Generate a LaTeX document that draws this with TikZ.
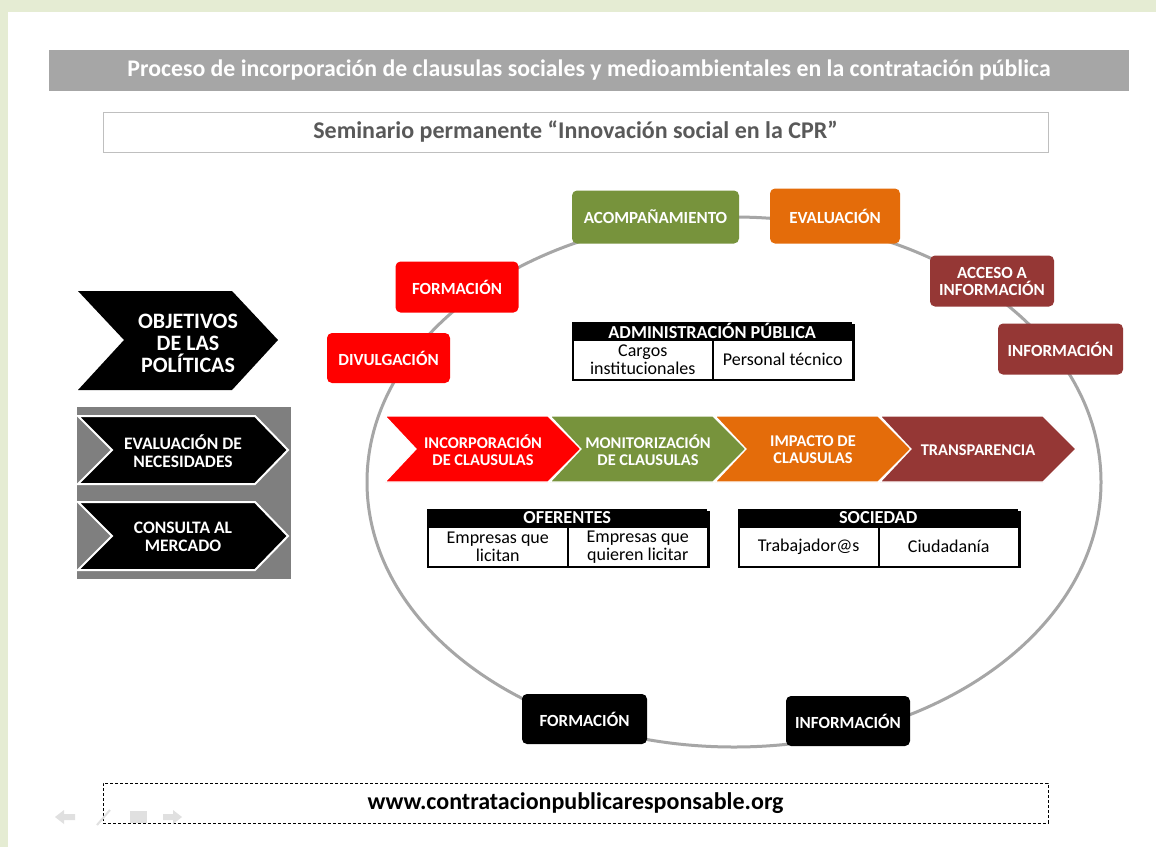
\documentclass[tikz,border=0pt]{standalone}
\usepackage{fontspec}
\setmainfont{Carlito}
\usetikzlibrary{positioning}
\definecolor{fondo}{HTML}{E5ECD3}
\definecolor{gris}{HTML}{A6A6A6}
\definecolor{grisosc}{HTML}{7F7F7F}
\definecolor{rojo}{HTML}{FF0000}
\definecolor{verde}{HTML}{77933C}
\definecolor{naranja}{HTML}{E46C0A}
\definecolor{granate}{HTML}{953735}
\newcommand\tam[2]{\fontsize{#1}{#2}\selectfont}
\tikzset{caja/.style={rounded corners=5pt, text=white, align=center, inner sep=2pt, font=\bfseries\tam{17}{17}},
         flecha/.style={text=white, align=center, font=\bfseries\tam{16.4}{17}},
         cabecera/.style={fill=black, text=white, inner sep=0pt, minimum width=280, minimum height=17, font=\bfseries\tam{18.3}{18}},
         celda/.style={draw, line width=1.5pt, fill=white, align=center, inner sep=0pt, minimum width=140, minimum height=40, font=\tam{18}{18}}}

\begin{document}
\begin{tikzpicture}[x=1pt,y=-1pt]
\useasboundingbox (0,0) rectangle (1156,847);
\fill[fondo] (0,0) rectangle (1156,847);
\fill[white] (8,12) rectangle (1156,847);

% cabecera
\node[fill=gris, minimum width=1080, minimum height=41, inner sep=0pt, text=white, font=\bfseries\tam{23.8}{24}] (titulo) at (589,70)
  {Proceso de incorporación de clausulas sociales y medioambientales en la contratación pública};
\node[draw=gray!50, line width=.8pt, minimum width=945, minimum height=40, inner sep=0pt, text=black!65, font=\bfseries\tam{24}{24}] (seminario) at (575.5,132)
  {Seminario permanente “Innovación social en la CPR”};

% columna izquierda
\fill[black] (78,291) -- (232,291) -- (278,340) -- (232,390) -- (78,390) -- (124,340) -- cycle;
\node[flecha, font=\bfseries\tam{22}{22}] (objetivos) at (188,343) {OBJETIVOS\\DE LAS\\POLÍTICAS};
\fill[grisosc] (77,407) rectangle (291,579);
\foreach \y/\nom/\txt in {416/necesidades/{EVALUACIÓN DE\\NECESIDADES}, 502/mercado/{CONSULTA AL\\MERCADO}}{
  \filldraw[fill=black, draw=white, line width=2pt] (78,\y) -- ++(177,0) -- ++(33,34) -- ++(-33,34) -- ++(-177,0) -- ++(34,-34) -- cycle;
  \node[flecha, font=\bfseries\tam{17.5}{18}] (\nom) at (183,\y+35) {\txt};
}

% ciclo
\draw[gris, line width=3pt] (734,482) ellipse [x radius=367, y radius=265];

\node[caja, fill=rojo, minimum width=123, minimum height=50] (divulgacion) at (388.5,358) {DIVULGACIÓN};
\node[caja, fill=rojo, minimum width=123, minimum height=51] (formacion) at (457,287) {FORMACIÓN};
\node[caja, fill=verde, minimum width=167, minimum height=53] (acompana) at (655.5,217) {ACOMPAÑAMIENTO};
\node[caja, fill=naranja, minimum width=130, minimum height=55] (evaluacion) at (835,216) {EVALUACIÓN};
\node[caja, fill=granate, minimum width=124, minimum height=51] (acceso) at (992,281) {ACCESO A\\INFORMACIÓN};
\node[caja, fill=granate, minimum width=125, minimum height=51] (informacion) at (1060.5,349) {INFORMACIÓN};
\node[caja, fill=black, minimum width=125, minimum height=50] (formacionb) at (584.5,719) {FORMACIÓN};
\node[caja, fill=black, minimum width=124, minimum height=50] (informacionb) at (848,721) {INFORMACIÓN};

% proceso
\foreach \col/\nom/\txt [count=\n from 0] in {rojo/incorporacion/{INCORPORACIÓN\\DE CLAUSULAS}, verde/monitorizacion/{MONITORIZACIÓN\\DE CLAUSULAS}, naranja/impacto/{IMPACTO DE\\CLAUSULAS}, granate/transparencia/{TRANSPARENCIA}}{
  \pgfmathsetmacro\xa{385+165*\n}
  \filldraw[fill=\col, draw=white, line width=1.2pt] (\xa,416) -- ++(163,0) -- ++(33,33) -- ++(-33,33) -- ++(-163,0) -- ++(31,-33) -- cycle;
  \node[flecha] (\nom) at (\xa+98,450) {\txt};
}

% actores
\foreach \x/\y/\nom/\cab/\izq/\der in {572/322/adm/{ADMINISTRACIÓN PÚBLICA}/{Cargos\\institucionales}/{Personal técnico},
    427/509/ofe/OFERENTES/{Empresas que\\licitan}/{Empresas que\\quieren licitar},
    738/509/soc/SOCIEDAD/Trabajador@s/Ciudadanía}{
  \fill[black] (\x+2,\y+2) rectangle ++(281,57);
  \node[cabecera, anchor=north west] (\nom) at (\x,\y) {\cab};
  \node[celda, anchor=north west] (\nom-a) at (\x,\y+17) {\izq};
  \node[celda, anchor=north west] (\nom-b) at (\x+140,\y+17) {\der};
}

% pie
\node[draw, line width=1pt, dash pattern=on 3pt off 2pt, minimum width=945, minimum height=40, inner sep=0pt, font=\bfseries\tam{24}{24}] (web) at (575.5,803)
  {www.contratacionpublicaresponsable.org};
\fill[black!12] (55,817) -- (64,810) -- (64,814) -- (75,814) -- (75,820) -- (64,820) -- (64,824) -- cycle;
\draw[black!12, line width=2pt] (97,825) -- (110,810);
\fill[black!12] (130,811) rectangle (147,823);
\fill[black!12] (182,817) -- (173,810) -- (173,814) -- (163,814) -- (163,820) -- (173,820) -- (173,824) -- cycle;
\end{tikzpicture}
\end{document}
